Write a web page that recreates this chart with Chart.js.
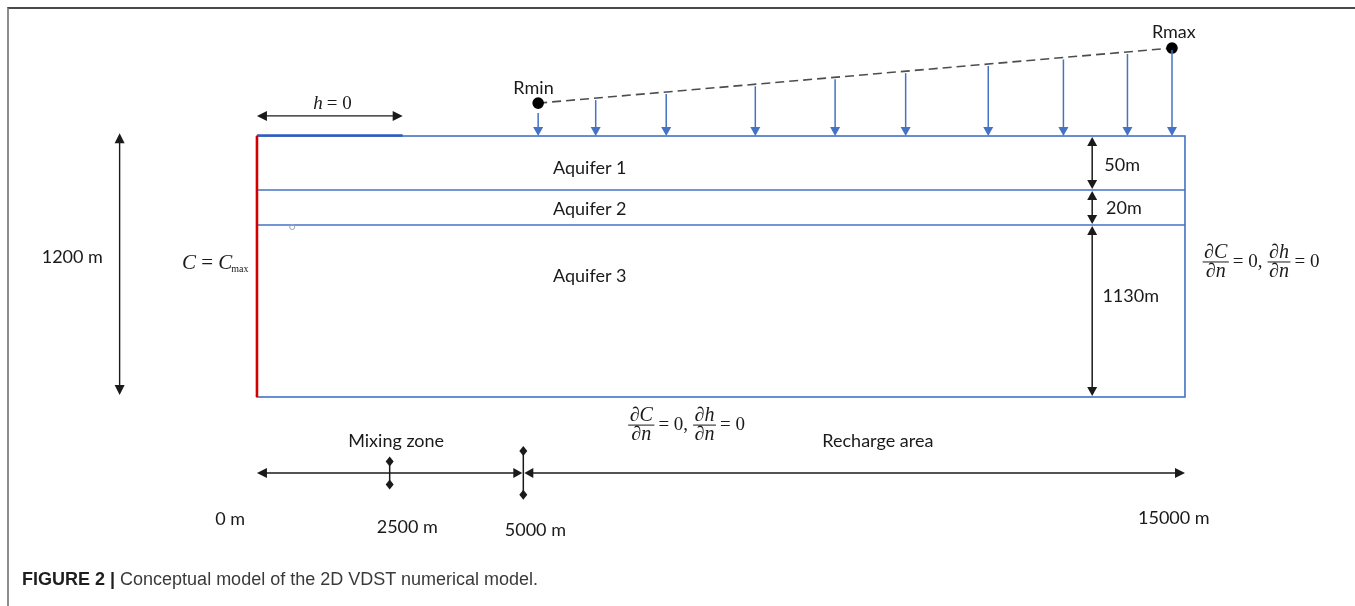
<!DOCTYPE html>
<html>
<head>
<meta charset="utf-8">
<title>Conceptual model</title>
<script src="https://cdn.jsdelivr.net/npm/chart.js@4"></script>
<style>
  body { margin: 0; background: #fff; }
  #wrap { position: relative; width: 1355px; height: 606px; overflow: hidden; }
  #frame { position: absolute; left: 7px; top: 7px; right: -4px; bottom: -4px;
           border-top: 2px solid #4a4a4a; border-left: 2px solid #8c8c8c; }
  #caption { position: absolute; left: 22px; top: 570px; line-height: 18px;
             font-family: "Liberation Sans", Arial, sans-serif; font-size: 18px; color: #3a3a3a; }
  #caption b { color: #1e1e1e; }
  canvas { position: absolute; left: 0; top: 0; }
</style>
</head>
<body>
<div id="wrap">
  <div id="frame"></div>
  <canvas id="model" width="1355" height="606"></canvas>
  <div id="caption"><b>FIGURE 2 |</b> Conceptual model of the 2D VDST numerical model.</div>
</div>
<script>
// sketch units: x runs 0..100 across the model domain, y runs 0..100 down it
const layerNames = ["Aquifer 1", "Aquifer 2", "Aquifer 3"];
const layerThickness = ["50m", "20m", "1130m"];
const layerTops = [0, 20.7, 34.1];
const domainBottom = 100;
const totalDepth = "1200 m";

const distanceLabels = ["0 m", "2500 m", "5000 m", "15000 m"];
const distanceX = [0, 14.3, 28.7, 100];
const zoneNames = ["Mixing zone", "Recharge area"];

const rechargeX = [30.3, 36.5, 44.1, 53.7, 62.3, 69.9, 78.8, 86.9, 93.8, 98.6];
const rechargeNames = ["Rmin", "Rmax"];
const rechargeEnds = [{ x: 30.3, y: -12.6 }, { x: 98.6, y: -33.7 }];
const headBoundary = [0, 15.7]; // stretch of the top with h = 0

// where the annotations sit
const layout = {
  depthArrowX: -14.8, depthArrow: [-1.1, 99.2], depthLabel: [-19.9, 46.4],
  headArrowY: -7.7, headLabel: [7.9, -12.6],
  cmaxLabel: [-0.8, 48.3],
  nameOffsets: [[-0.5, -5.8], [0.2, -6.1]],
  layerLabel: [[31.9, 12.3], [31.9, 28.0], [31.9, 53.6]],
  dimX: 90, dimLabel: [[91.3, 11.1], [91.5, 27.6], [91.1, 61.3]],
  rightCond: [101.9, 47.5], bottomCond: [40.0, 110.0],
  zoneLabel: [[15.0, 116.9], [66.9, 116.9]],
  axisY: 129.1, tickHalf: [0, 4.4, 8.4, 0],
  tickLabel: [[-2.9, 146.7], [16.2, 149.8], [30.0, 151.0], [98.8, 146.4]],
  node: [3.8, 34.5]
};

const BLUE = "#4472c4";
const INK = "#1a1a1a";
const SANS = "Lato, 'Open Sans', sans-serif";
const SERIF = "'Liberation Serif', 'DejaVu Serif', serif";

function head(ctx, x, y, dx, dy, len, half, color) {
  // filled arrow head with its tip at (x, y), pointing along (dx, dy)
  ctx.fillStyle = color;
  ctx.beginPath();
  ctx.moveTo(x, y);
  ctx.lineTo(x - dx * len - dy * half, y - dy * len + dx * half);
  ctx.lineTo(x - dx * len + dy * half, y - dy * len - dx * half);
  ctx.closePath();
  ctx.fill();
}

function line(ctx, x1, y1, x2, y2, color, w) {
  ctx.strokeStyle = color;
  ctx.lineWidth = w;
  ctx.beginPath();
  ctx.moveTo(x1, y1);
  ctx.lineTo(x2, y2);
  ctx.stroke();
}

function diamond(ctx, x, y, r) {
  ctx.fillStyle = INK;
  ctx.beginPath();
  ctx.moveTo(x, y - r - 1);
  ctx.lineTo(x + r, y);
  ctx.lineTo(x, y + r + 1);
  ctx.lineTo(x - r, y);
  ctx.closePath();
  ctx.fill();
}

function frac(ctx, x, bar, num, den) {
  ctx.font = "italic 20px " + SERIF;
  const w = Math.max(ctx.measureText(num).width, ctx.measureText(den).width) + 3;
  ctx.textAlign = "center";
  ctx.fillText(num, x + w / 2, bar - 4);
  ctx.fillText(den, x + w / 2, bar + 15);
  line(ctx, x, bar, x + w, bar, INK, 1);
  ctx.textAlign = "left";
  return x + w;
}

function condition(ctx, x, y) {
  // dC/dn = 0, dh/dn = 0
  const bar = y + 2;
  ctx.fillStyle = INK;
  let cx = frac(ctx, x, bar, "\u2202C", "\u2202n") + 4;
  ctx.font = "19px " + SERIF;
  ctx.fillText("= 0,", cx, y + 7);
  cx += ctx.measureText("= 0,").width + 5;
  cx = frac(ctx, cx, bar, "\u2202h", "\u2202n") + 4;
  ctx.font = "19px " + SERIF;
  ctx.fillStyle = INK;
  ctx.fillText("= 0", cx, y + 7);
}

const sketch = {
  id: "sketch",
  afterDatasetsDraw(chart) {
    const ctx = chart.ctx;
    const sx = v => chart.scales.x.getPixelForValue(v);
    const sy = v => chart.scales.y.getPixelForValue(v);
    ctx.save();
    ctx.textBaseline = "alphabetic";

    const L = sx(0), R = sx(100), T = sy(0), B = sy(domainBottom);

    // model domain and layer boundaries
    ctx.lineWidth = 1.6;
    ctx.strokeStyle = BLUE;
    ctx.strokeRect(L, T, R - L, B - T);
    layerTops.slice(1).forEach(d => line(ctx, L, sy(d), R, sy(d), BLUE, 1.5));
    line(ctx, sx(headBoundary[0]), T - 0.5, sx(headBoundary[1]), T - 0.5, "#2f5cbf", 2.4);
    line(ctx, L, T, L, B, "#d40000", 2.6);
    ctx.strokeStyle = "#9aa3bd";
    ctx.lineWidth = 1;
    ctx.beginPath();
    ctx.arc(sx(layout.node[0]), sy(layout.node[1]) + 1, 2.5, 0, Math.PI * 2);
    ctx.stroke();

    // recharge arrows hanging from the Rmin - Rmax line
    const a = rechargeEnds[0], b = rechargeEnds[1];
    rechargeX.forEach((x, i) => {
      const top = sy(a.y + (b.y - a.y) * (x - a.x) / (b.x - a.x)) + (i === 0 ? 10 : 2);
      line(ctx, sx(x), top, sx(x), T - 7, BLUE, 1.5);
      head(ctx, sx(x), T, 0, 1, 9, 5, BLUE);
    });
    ctx.font = "18px " + SANS;
    ctx.fillStyle = INK;
    ctx.textAlign = "center";
    ctx.textBaseline = "middle";
    rechargeNames.forEach((n, i) => {
      const p = rechargeEnds[i], o = layout.nameOffsets[i];
      ctx.fillText(n, sx(p.x + o[0]), sy(p.y + o[1]));
    });

    // total depth
    const dx = sx(layout.depthArrowX);
    line(ctx, dx, sy(layout.depthArrow[0]) + 8, dx, sy(layout.depthArrow[1]) - 8, INK, 1.4);
    head(ctx, dx, sy(layout.depthArrow[0]), 0, -1, 10, 5, INK);
    head(ctx, dx, sy(layout.depthArrow[1]), 0, 1, 10, 5, INK);
    ctx.fillText(totalDepth, sx(layout.depthLabel[0]), sy(layout.depthLabel[1]));

    // h = 0 on the top boundary
    const hy = sy(layout.headArrowY);
    line(ctx, sx(headBoundary[0]) + 8, hy, sx(headBoundary[1]) - 8, hy, INK, 1.4);
    head(ctx, sx(headBoundary[0]), hy, -1, 0, 10, 5, INK);
    head(ctx, sx(headBoundary[1]), hy, 1, 0, 10, 5, INK);
    ctx.textAlign = "left";
    ctx.textBaseline = "alphabetic";
    let hx = sx(layout.headLabel[0]) - 17;
    const hb = sy(layout.headLabel[1]) + 6;
    ctx.font = "italic 19px " + SERIF;
    ctx.fillText("h", hx, hb);
    hx += ctx.measureText("h").width + 4;
    ctx.font = "19px " + SERIF;
    ctx.fillText("= 0", hx, hb);

    // C = Cmax on the sea side
    const cb = sy(layout.cmaxLabel[1]) + 7;
    ctx.font = "10px " + SERIF;
    const wMax = ctx.measureText("max").width;
    ctx.font = "italic 21px " + SERIF;
    const wC = ctx.measureText("C").width;
    ctx.font = "21px " + SERIF;
    const wEq = ctx.measureText(" = ").width;
    let cx = sx(layout.cmaxLabel[0]) - wMax - wC * 2 - wEq;
    ctx.font = "italic 21px " + SERIF;
    ctx.fillText("C", cx, cb);
    cx += wC;
    ctx.font = "21px " + SERIF;
    ctx.fillText(" = ", cx, cb);
    cx += wEq;
    ctx.font = "italic 21px " + SERIF;
    ctx.fillText("C", cx, cb);
    cx += wC - 1;
    ctx.font = "10px " + SERIF;
    ctx.fillText("max", cx, cb + 3);

    // layers and their thicknesses
    ctx.font = "18px " + SANS;
    ctx.textBaseline = "middle";
    layerNames.forEach((n, i) => {
      ctx.fillText(n, sx(layout.layerLabel[i][0]), sy(layout.layerLabel[i][1]));
    });
    const mx = sx(layout.dimX);
    const bounds = layerTops.concat([domainBottom]);
    layerThickness.forEach((t, i) => {
      const y1 = sy(bounds[i]) + 1, y2 = sy(bounds[i + 1]) - 1;
      line(ctx, mx, y1 + 7, mx, y2 - 7, INK, 1.5);
      head(ctx, mx, y1, 0, -1, 9, 5, INK);
      head(ctx, mx, y2, 0, 1, 9, 5, INK);
      ctx.fillStyle = INK;
      ctx.fillText(t, sx(layout.dimLabel[i][0]), sy(layout.dimLabel[i][1]));
    });

    // no-flow conditions
    ctx.textBaseline = "alphabetic";
    condition(ctx, sx(layout.rightCond[0]), sy(layout.rightCond[1]));
    condition(ctx, sx(layout.bottomCond[0]), sy(layout.bottomCond[1]));

    // distance axis along the bottom
    const ay = sy(layout.axisY);
    const x5 = sx(distanceX[2]);
    line(ctx, sx(distanceX[0]) + 8, ay, x5 - 8, ay, INK, 1.4);
    line(ctx, x5 + 8, ay, sx(distanceX[3]) - 8, ay, INK, 1.4);
    head(ctx, sx(distanceX[0]), ay, -1, 0, 10, 5, INK);
    head(ctx, sx(distanceX[3]), ay, 1, 0, 10, 5, INK);
    head(ctx, x5 - 1, ay, 1, 0, 9, 5, INK);
    head(ctx, x5 + 1, ay, -1, 0, 9, 5, INK);
    distanceX.forEach((d, i) => {
      const h = layout.tickHalf[i];
      if (h > 0) {
        const t1 = sy(layout.axisY - h), t2 = sy(layout.axisY + h);
        line(ctx, sx(d), t1, sx(d), t2, INK, 1.5);
        diamond(ctx, sx(d), t1, 4);
        diamond(ctx, sx(d), t2, 4);
      }
    });
    ctx.font = "18px " + SANS;
    ctx.fillStyle = INK;
    ctx.textAlign = "center";
    ctx.textBaseline = "middle";
    distanceLabels.forEach((t, i) => {
      ctx.fillText(t, sx(layout.tickLabel[i][0]), sy(layout.tickLabel[i][1]));
    });
    zoneNames.forEach((z, i) => {
      ctx.fillText(z, sx(layout.zoneLabel[i][0]), sy(layout.zoneLabel[i][1]));
    });

    ctx.restore();
  }
};

new Chart(document.getElementById("model"), {
  type: "scatter",
  data: {
    datasets: [{
      data: rechargeEnds,
      showLine: true,
      borderColor: "#4d4d4d",
      borderWidth: 1.6,
      borderDash: [9, 5],
      pointRadius: 5,
      pointBackgroundColor: "#000",
      pointBorderColor: "#000"
    }]
  },
  options: {
    responsive: false,
    animation: false,
    layout: { padding: 0, autoPadding: false },
    plugins: { legend: { display: false }, tooltip: { enabled: false } },
    scales: {
      x: { type: "linear", min: -27.69, max: 118.32, display: false },
      y: { type: "linear", min: -52.11, max: 180.08, reverse: true, display: false }
    }
  },
  plugins: [sketch]
});
</script>
</body>
</html>
